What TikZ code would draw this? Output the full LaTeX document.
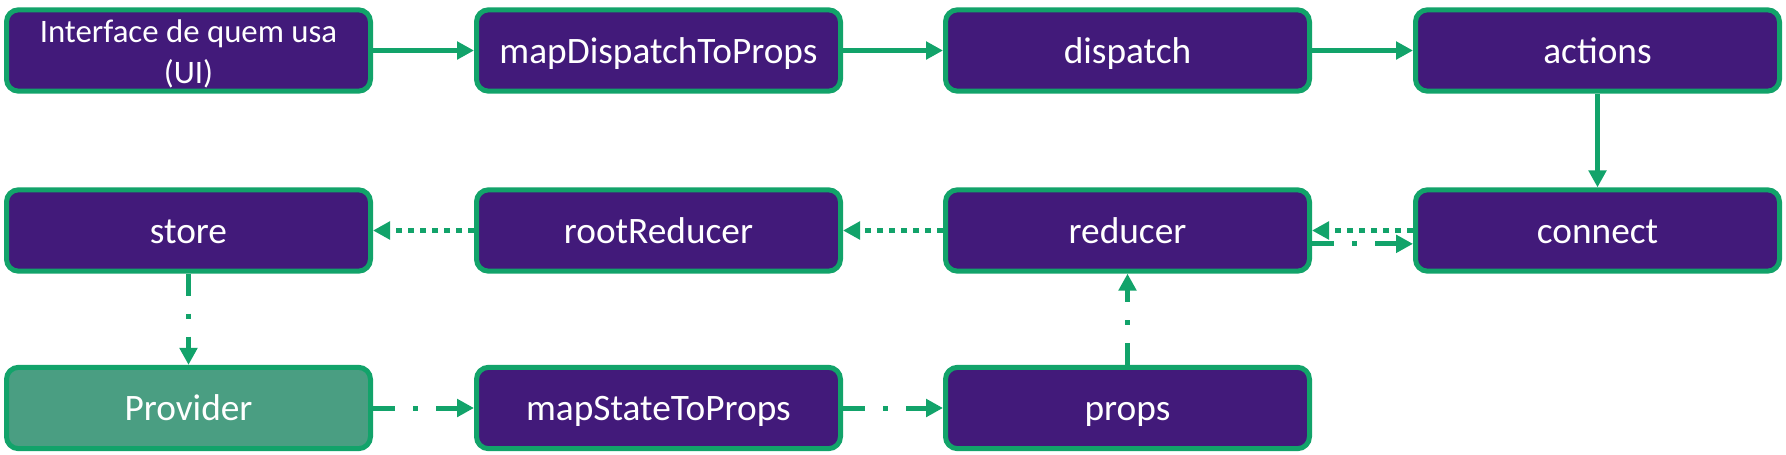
\documentclass[tikz,border=0pt]{standalone}
\usepackage{fontspec}
\setmainfont{Carlito}
\usetikzlibrary{arrows.meta}
\definecolor{boxpurple}{RGB}{66,26,122}
\definecolor{boxgreen}{RGB}{18,163,106}
\definecolor{provgreen}{RGB}{74,158,130}
\tikzset{
  box/.style={draw=boxgreen, fill=boxpurple, line width=3.75pt, rounded corners=9pt,
    minimum width=273pt, minimum height=61pt, text=white, inner sep=0pt,
    font=\fontsize{28}{34}\selectfont, text height=21pt, text depth=2.25pt},
  provbox/.style={box, fill=provgreen},
  conn/.style={draw=boxgreen, line width=3.75pt, line cap=butt,
    -{Triangle[length=12.75pt,width=13pt]}},
  dotline/.style={conn, dash pattern=on 4.5pt off 4.5pt},
  dashdotline/.style={conn, dash pattern=on 16.5pt off 13.5pt on 3.75pt off 13.5pt},
}
\begin{document}
\begin{tikzpicture}[x=0.75pt,y=-0.75pt]
\useasboundingbox (0,0) rectangle (1786,454);
% row 1
\node[box, align=center, font=\fontsize{24.6}{30.75}\selectfont, text height=50pt, text depth=1.25pt] (ui) at (188.5,50.5) {Interface de quem usa\\(UI)};
\node[box] (mdp) at (658.5,50.5) {mapDispatchToProps};
\node[box] (disp) at (1127.5,50.5) {dispatch};
\node[box] (act) at (1597.5,50.5) {actions};
% row 2
\node[box] (store) at (188.5,230.5) {store};
\node[box] (root) at (658.5,230.5) {rootReducer};
\node[box] (red) at (1127.5,230.5) {reducer};
\node[box] (conn) at (1597.5,230.5) {connect};
% row 3
\node[provbox] (prov) at (188.5,408) {Provider};
\node[box] (msp) at (658.5,408) {mapStateToProps};
\node[box] (props) at (1127.5,408) {props};
% connectors
\draw[conn] (ui) -- (mdp);
\draw[conn] (mdp) -- (disp);
\draw[conn] (disp) -- (act);
\draw[conn] (act) -- (conn);
\draw[dotline] (conn.west) -- (red.east);
\draw[dashdotline] ([yshift=-10pt]red.east) -- ([yshift=-10pt]conn.west);
\draw[dotline] (red) -- (root);
\draw[dotline] (root) -- (store);
\draw[dashdotline] (store) -- (prov);
\draw[dashdotline] (prov) -- (msp);
\draw[dashdotline] (msp) -- (props);
\draw[dashdotline] (props) -- (red);
\end{tikzpicture}
\end{document}
